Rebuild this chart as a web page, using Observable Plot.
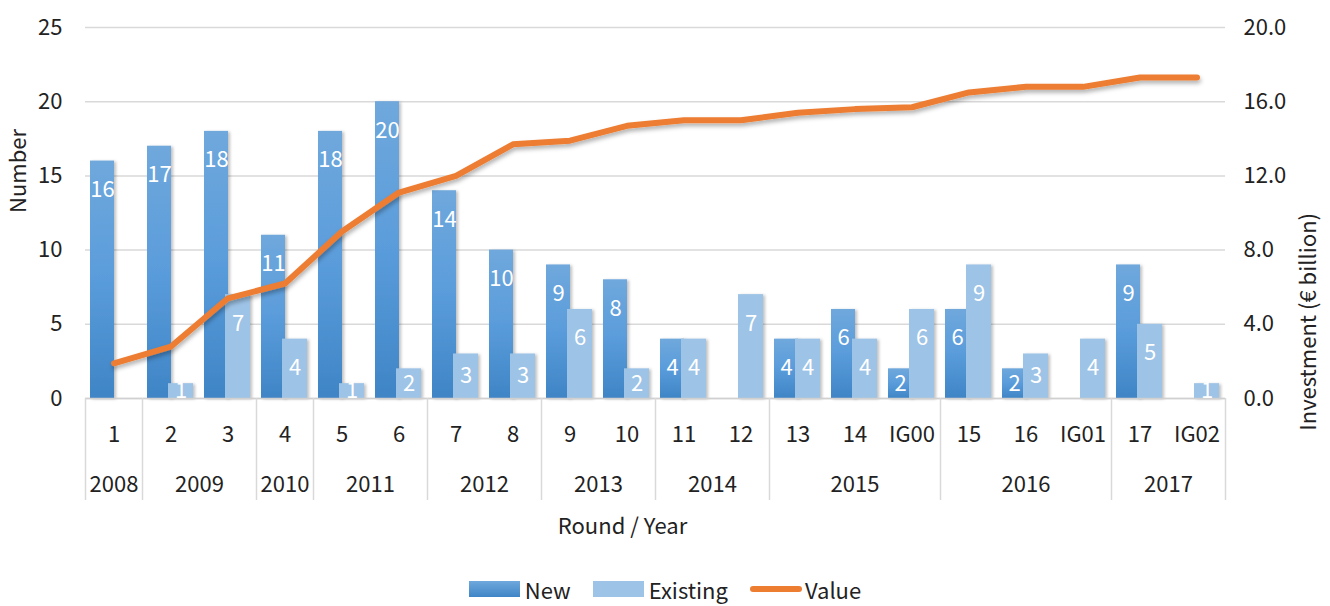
<!DOCTYPE html>
<html>
<head>
<meta charset="utf-8">
<script src="https://cdn.jsdelivr.net/npm/d3@7"></script>
<script src="https://cdn.jsdelivr.net/npm/@observablehq/plot@0.6"></script>
<style>
  html, body { margin: 0; padding: 0; background: white; overflow: hidden; }
  #chart svg { display: block; }
  #legend { display: flex; justify-content: center; align-items: center; height: 34px; line-height: 22px;
    font-family: "Noto Sans CJK SC", Lato, sans-serif; font-size: 22px; color: #222; }
  .item { display: flex; align-items: center; margin: 0 11px; }
  .sw { display: inline-block; width: 51px; height: 16px; margin-right: 5px; }
  .ln { display: inline-block; width: 52px; height: 6px; border-radius: 3px; background: #ED7D31; margin-right: 3px; }
</style>
</head>
<body>
<div id="chart"></div>
<div id="legend">
  <div class="item"><span class="sw" style="background: linear-gradient(#6FA8DC, #3F85C6);"></span>New</div>
  <div class="item"><span class="sw" style="background:#9DC3E6;"></span>Existing</div>
  <div class="item"><span class="ln"></span>Value</div>
</div>
<script>
const rounds = ["1","2","3","4","5","6","7","8","9","10","11","12","13","14","IG00","15","16","IG01","17","IG02"];
const roundYear = [2008,2009,2009,2010,2011,2011,2012,2012,2013,2013,2014,2014,2015,2015,2015,2016,2016,2016,2017,2017];
const newCounts = [16,17,18,11,18,20,14,10,9,8,4,0,4,6,2,6,2,0,9,0];
const existingCounts = [0,1,7,4,1,2,3,3,6,2,4,7,4,4,6,9,3,4,5,1];
const valueBn = [1.9,2.8,5.4,6.2,9.0,11.1,12.0,13.7,13.9,14.7,15.0,15.0,15.4,15.6,15.7,16.5,16.8,16.8,17.3,17.3];
const leftTicks = [0,5,10,15,20,25];
const rightTickLabels = ["0.0","4.0","8.0","12.0","16.0","20.0"];
const leftMax = 25, rightMax = 20;

const rows = rounds.map((r, i) => ({
  i, round: r, year: roundYear[i], x1: i, x2: i + 1, xc: i + 0.5,
  newCount: newCounts[i], existing: existingCounts[i], value: valueBn[i]
}));

const yearGroups = [];
rows.forEach(d => {
  const last = yearGroups[yearGroups.length - 1];
  if (last && last.year === d.year) last.end = d.i + 1;
  else yearGroups.push({year: d.year, start: d.i, end: d.i + 1});
});
yearGroups.forEach(g => g.mid = (g.start + g.end) / 2);
const boundaries = [0, ...yearGroups.map(g => g.end)];

const labelY = v => Math.max(v - 1.95, v / 2);
const ink = "#222";
const fs = 22;

const plot = Plot.plot({
  width: 1330,
  height: 572,
  marginLeft: 85,
  marginRight: 105,
  marginTop: 27,
  marginBottom: 174,
  x: {type: "linear", domain: [0, rounds.length], axis: null, label: null},
  y: {domain: [0, leftMax], axis: null, label: null},
  style: {fontFamily: "'Noto Sans CJK SC', Lato, sans-serif", fontSize: fs + "px", color: ink, background: "white", overflow: "visible"},
  marks: [
    Plot.gridY({ticks: leftTicks, stroke: "#d9d9d9", strokeOpacity: 1, strokeWidth: 1.5}),
    Plot.rectY(rows, {x1: "x1", x2: "x2", y: "newCount", fill: "#5B9BD5", insetLeft: 5, insetRight: 28}),
    Plot.rectY(rows, {x1: "x1", x2: "x2", y: "existing", fill: "#9DC3E6", insetLeft: 26, insetRight: 6}),
    Plot.ruleY([0], {stroke: "#d0d0d0", strokeWidth: 1.5}),
    Plot.line(rows, {x: "xc", y: d => d.value * leftMax / rightMax, stroke: "#ED7D31", strokeWidth: 6,
      strokeLinecap: "round", strokeLinejoin: "round"}),
    Plot.text(rows.filter(d => d.newCount > 0), {x: "xc", y: d => labelY(d.newCount), text: d => String(d.newCount),
      fill: "white", dx: -11.5, fontSize: fs}),
    Plot.text(rows.filter(d => d.existing > 0), {x: "xc", y: d => labelY(d.existing), text: d => String(d.existing),
      fill: "white", dx: 10, fontSize: fs}),
    Plot.axisX({ticks: boundaries, tickSize: 102, tickFormat: () => "", stroke: "#d9d9d9", strokeWidth: 1.5, label: null}),
    Plot.text(rows, {x: "xc", frameAnchor: "bottom", dy: 43, text: "round", fill: ink, fontSize: fs}),
    Plot.text(yearGroups, {x: "mid", frameAnchor: "bottom", dy: 93, text: d => String(d.year), fill: ink, fontSize: fs}),
    Plot.axisY({ticks: leftTicks, anchor: "left", tickSize: 0, tickPadding: 23, label: null, fontSize: fs, fill: ink}),
    Plot.axisY({ticks: leftTicks, anchor: "right", tickSize: 0, tickPadding: 18, label: null, fontSize: fs, fill: ink,
      tickFormat: d => rightTickLabels[leftTicks.indexOf(d)]}),
    Plot.text(["Number"], {frameAnchor: "left", rotate: -90, dx: -67, text: d => d, fill: ink, fontSize: fs}),
    Plot.text(["Investment (€ billion)"], {frameAnchor: "right", rotate: -90, dx: 83, text: d => d, fill: ink, fontSize: fs}),
    Plot.text(["Round / Year"], {frameAnchor: "bottom", dx: -33, dy: 135, text: d => d, fill: ink, fontSize: fs})
  ]
});

const ns = "http://www.w3.org/2000/svg";
const defs = document.createElementNS(ns, "defs");
defs.innerHTML = `
  <linearGradient id="gNew" x1="0" y1="0" x2="0" y2="1">
    <stop offset="0" stop-color="#6FA8DC"/>
    <stop offset="0.5" stop-color="#5A9CDB"/>
    <stop offset="1" stop-color="#3F85C6"/>
  </linearGradient>
  <filter id="shBar" x="-20%" y="-20%" width="150%" height="140%">
    <feDropShadow dx="2" dy="1" stdDeviation="1.5" flood-color="#000" flood-opacity="0.25"/>
  </filter>
  <filter id="shLine" x="-5%" y="-20%" width="110%" height="150%">
    <feDropShadow dx="1" dy="3" stdDeviation="2" flood-color="#000" flood-opacity="0.3"/>
  </filter>`;
plot.insertBefore(defs, plot.firstChild);
const rectGroups = plot.querySelectorAll('g[aria-label="rect"]');
if (rectGroups[0]) {
  rectGroups[0].setAttribute("fill", "url(#gNew)");
  rectGroups[0].querySelectorAll("rect").forEach(r => r.setAttribute("fill", "url(#gNew)"));
  rectGroups[0].setAttribute("filter", "url(#shBar)");
}
if (rectGroups[1]) rectGroups[1].setAttribute("filter", "url(#shBar)");
const lineG = plot.querySelector('g[aria-label="line"]');
if (lineG) lineG.setAttribute("filter", "url(#shLine)");

document.getElementById("chart").appendChild(plot);
</script>
</body>
</html>
